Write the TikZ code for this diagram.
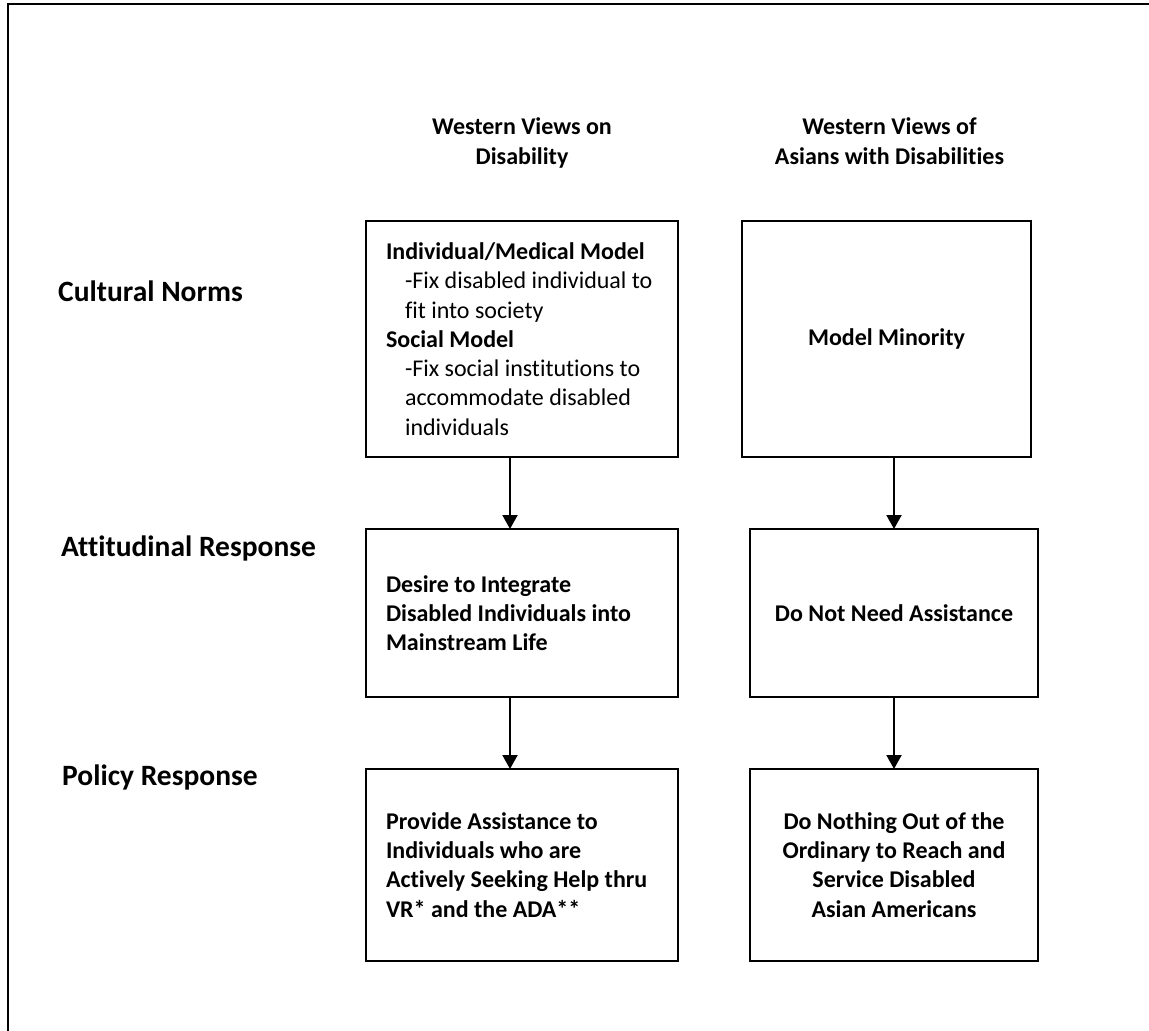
\documentclass[tikz,border=0pt]{standalone}
\usepackage{fontspec}
\setmainfont{Carlito}[Ligatures=NoCommon]
\usetikzlibrary{arrows.meta,positioning}
\newcommand{\boxfont}{\fontsize{24}{29.3}\selectfont}
\newcommand{\boxindent}{\hspace*{19pt}}
\tikzset{
  frameln/.style={line width=2pt, line cap=rect},
  flowarrow/.style={-{Triangle[length=14pt,width=15pt]}, line width=2pt},
  normbox/.style={draw, line width=2pt, outer sep=0pt, inner xsep=20pt, inner ysep=0pt,
    minimum height=#1, font=\boxfont},
  leftbox/.style={normbox=#1, text width=272pt, align=flush left},
  midbox/.style={normbox=#1, minimum width=288pt, align=center, font=\boxfont\bfseries},
  rowlabel/.style={anchor=base west, inner sep=0pt, font=\fontsize{29.5}{36}\selectfont\bfseries},
  colhead/.style={inner sep=0pt, outer sep=0pt, align=center, text depth=6pt, font=\boxfont\bfseries},
}

\begin{document}
\begin{tikzpicture}[x=1pt, y=-1pt]
  \useasboundingbox (0,0) rectangle (1149,1031);
  \draw[frameln] (7.7,1031) -- (7.7,4.3) -- (1149,4.3);

  % western views column
  \node[leftbox=236pt, anchor=north west] (wnorm) at (366,221)
    {\textbf{Individual/Medical Model}\\
     \boxindent-Fix disabled individual to\\
     \boxindent fit into society\\
     \textbf{Social Model}\\
     \boxindent-Fix social institutions to\\
     \boxindent accommodate disabled\\
     \boxindent individuals};
  \node[leftbox=168pt, font=\boxfont\bfseries, below=72pt of wnorm] (wattit)
    {Desire to Integrate\\ Disabled Individuals into\\ Mainstream Life};
  \node[leftbox=192pt, font=\boxfont\bfseries, below=72pt of wattit] (wpolicy)
    {Provide Assistance to\\ Individuals who are\\ Actively Seeking Help thru\\ VR* and the ADA**};

  % asians with disabilities column
  \node[midbox=236pt, minimum width=289pt, right=64pt of wnorm] (anorm) {Model Minority};
  \node[midbox=168pt, below=72pt of anorm, xshift=7.5pt] (aattit) {Do Not Need Assistance};
  \node[midbox=192pt, below=72pt of aattit] (apolicy)
    {Do Nothing Out of the\\ Ordinary to Reach and\\ Service Disabled\\ Asian Americans};

  % headings
  \node[colhead, above=51pt of wnorm] (whead) {Western Views on\\ Disability};
  \node[colhead, above=51pt of anorm, xshift=3pt] (ahead) {Western Views of\\ Asians with Disabilities};
  \node[rowlabel] (cultural) at (58,301) {Cultural Norms};
  \node[rowlabel] (attitude) at (61,556) {Attitudinal Response};
  \node[rowlabel] (policy) at (62,785) {Policy Response};

  \draw[flowarrow] ([xshift=-12pt]wnorm.south) -- ([xshift=-12pt]wattit.north);
  \draw[flowarrow] ([xshift=-12pt]wattit.south) -- ([xshift=-12pt]wpolicy.north);
  \draw[flowarrow] (aattit.north |- anorm.south) -- (aattit.north);
  \draw[flowarrow] (aattit.south) -- (apolicy.north);
\end{tikzpicture}
\end{document}
